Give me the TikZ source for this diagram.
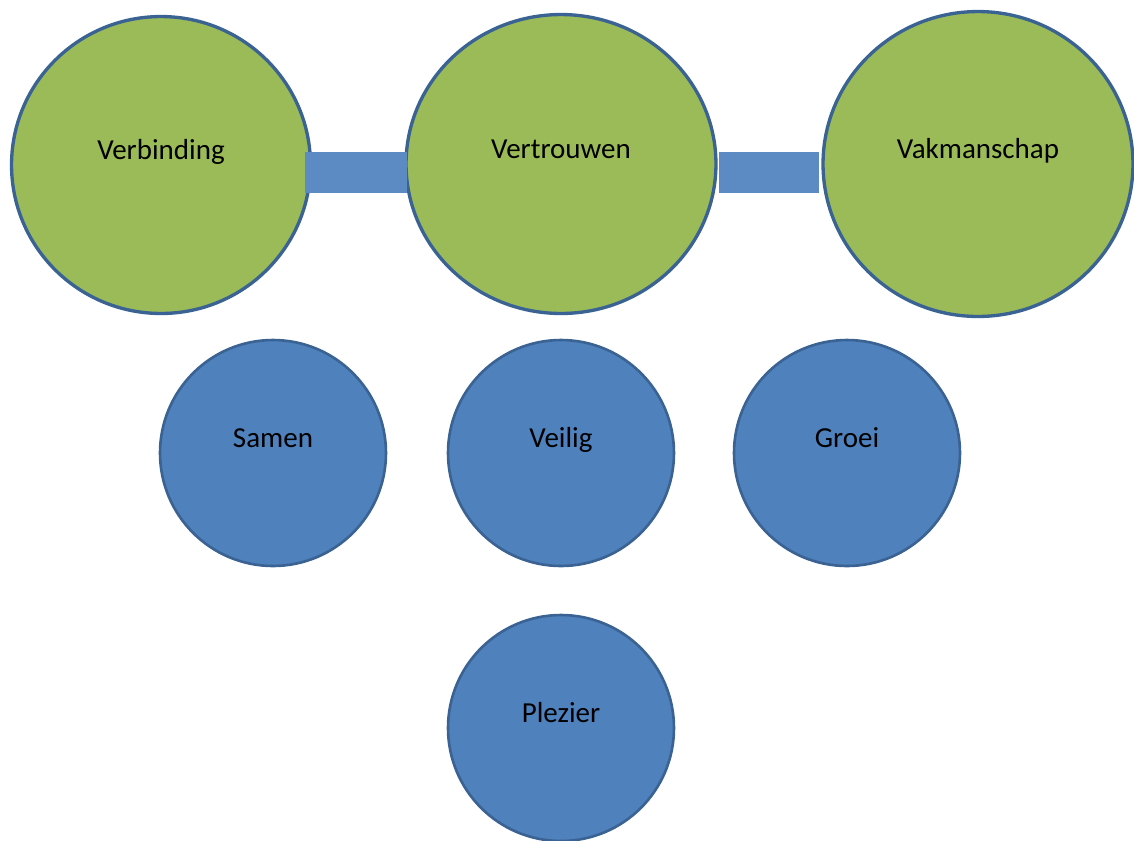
\documentclass[tikz,border=0pt]{standalone}
\usepackage{fontspec}
\setmainfont{Carlito}
\usepackage{tikz}
\usetikzlibrary{shapes.geometric}
\definecolor{leafgreen}{HTML}{9BBB59}
\definecolor{valueblue}{HTML}{4F81BD}
\definecolor{rimblue}{HTML}{3A6394}
\definecolor{barblue}{HTML}{5C8BC4}
\tikzset{
    every node/.append style = {
        text = black,
        font = \fontsize{16.5}{19}\selectfont
    },
    every label/.append style = {
        text height = 0.7em,
        text depth = 0.2em,
        yshift = 0.19cm
    },
    pillar/.style = {
        ellipse,
        draw = rimblue,
        line width = 1.9pt,
        fill = leafgreen
    },
    value/.style = {
        circle,
        draw = rimblue,
        line width = 1.5pt,
        fill = valueblue,
        minimum size = 4.52cm
    },
    bridge/.style = {
        draw = barblue,
        line width = 0.82cm
    }
}
\begin{document}
\begin{tikzpicture}[x=0.02cm, y=-0.02cm]
    \useasboundingbox (0,0) rectangle (1134,840);
        \node (verb) [pillar, minimum width = 5.98cm, minimum height = 5.94cm, label=center:Verbinding] at (161,165) {};
        \node (vert) [pillar, minimum width = 6.2cm, minimum height = 5.98cm, label=center:Vertrouwen] at (561,164) {};
        \node (vak) [pillar, minimum width = 6.2cm, minimum height = 6.1cm, label=center:Vakmanschap] at (978,164) {};
%add bridges
        \draw[bridge] ([shift={(-7,7.5)}]verb.east) -- ([shift={(3,8.5)}]vert.west);
        \draw[bridge] ([shift={(1,8.5)}]vert.east) -- ([shift={(-2,8.5)}]vak.west);
%add values
        \node (samen) [value, label=center:Samen] at (273,453) {};
        \node (veilig) [value, label=center:Veilig] at (561,453) {};
        \node (groei) [value, label=center:Groei] at (847,453) {};
        \node (plezier) [value, label=center:Plezier] at (561,728) {};
\end{tikzpicture}
\end{document}
